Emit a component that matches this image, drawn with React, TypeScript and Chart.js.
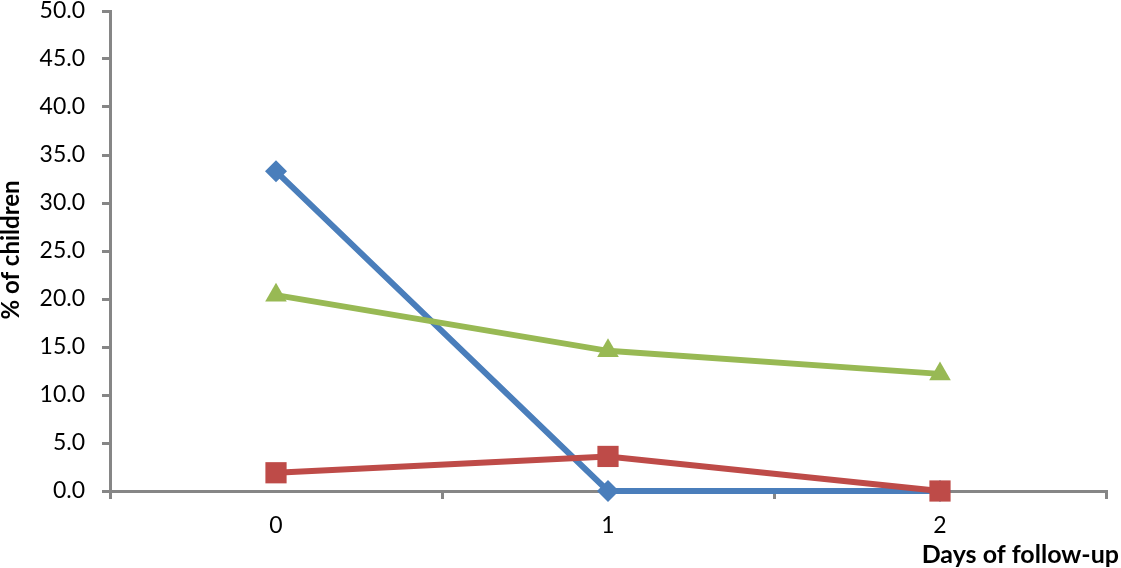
import React, { useEffect, useRef } from "react";
import { Chart, registerables } from "chart.js";

Chart.register(...registerables);

const days = ["0", "1", "2"];
const seriesBlue = [33.3, 0.0, 0.0];
const seriesRed = [1.9, 3.6, 0.0];
const seriesGreen = [20.4, 14.6, 12.2];
const yTitle = "% of children";
const xTitle = "Days of follow-up";

const FONT = "Lato, 'Open Sans', sans-serif";
const AXIS = "#868686";

const titlesPlugin = {
  id: "titles",
  afterDraw(chart: any) {
    const ctx = chart.ctx;
    ctx.save();
    ctx.fillStyle = "#000";
    ctx.font = `bold 25px ${FONT}`;
    ctx.textAlign = "right";
    ctx.textBaseline = "alphabetic";
    ctx.fillText(xTitle, 1119, 563);
    ctx.font = `bold 24px ${FONT}`;
    ctx.translate(11, 250);
    ctx.rotate(-Math.PI / 2);
    ctx.textAlign = "center";
    ctx.textBaseline = "middle";
    ctx.fillText(yTitle, 0, 0);
    ctx.restore();
  },
};

export default function App() {
  const ref = useRef<HTMLCanvasElement>(null);
  useEffect(() => {
    const mk = (data: number[], color: string, style: string, r: number, order: number) => ({
      data,
      borderColor: color,
      backgroundColor: color,
      borderWidth: 6,
      pointStyle: style,
      pointRadius: r,
      pointBorderWidth: 0,
      tension: 0,
      clip: false as any,
      order,
    });
    const chart = new Chart(ref.current!, {
      type: "line",
      data: {
        labels: days,
        datasets: [
          mk(seriesBlue, "#4A7EBB", "rectRot", 11, 3),
          mk(seriesRed, "#BE4B48", "rect", 15, 2),
          mk(seriesGreen, "#98B954", "triangle", 12.5, 1),
        ],
      },
      options: {
        animation: false,
        responsive: false,
        maintainAspectRatio: false,
        layout: { autoPadding: false, padding: { top: 11, right: 15, left: 0, bottom: 0 } },
        plugins: { legend: { display: false }, tooltip: { enabled: false } },
        scales: {
          x: {
            offset: true,
            grid: {
              offset: true,
              drawOnChartArea: false,
              tickLength: 8,
              color: AXIS,
              lineWidth: 3,
            },
            border: { color: AXIS, width: 3 },
            ticks: { color: "#000", font: { family: FONT, size: 23 }, padding: 13 },
            afterFit: (s: any) => {
              s.height = 77;
              s.paddingLeft = 0;
              s.paddingRight = 0;
            },
          },
          y: {
            min: 0,
            max: 50,
            grid: {
              drawOnChartArea: false,
              tickLength: 8,
              color: AXIS,
              lineWidth: 3,
            },
            border: { color: AXIS, width: 3 },
            ticks: {
              stepSize: 5,
              color: "#000",
              font: { family: FONT, size: 23 },
              padding: 17,
              callback: (v: any) => Number(v).toFixed(1),
            },
            afterFit: (s: any) => {
              s.width = 110;
              s.paddingTop = 0;
              s.paddingBottom = 0;
            },
          },
        },
      },
      plugins: [titlesPlugin],
    });
    return () => chart.destroy();
  }, []);
  return (
    <div style={{ position: "fixed", left: 0, top: 0, width: 1121, height: 568, background: "#fff" }}>
      <canvas ref={ref} width={1121} height={568} />
    </div>
  );
}
